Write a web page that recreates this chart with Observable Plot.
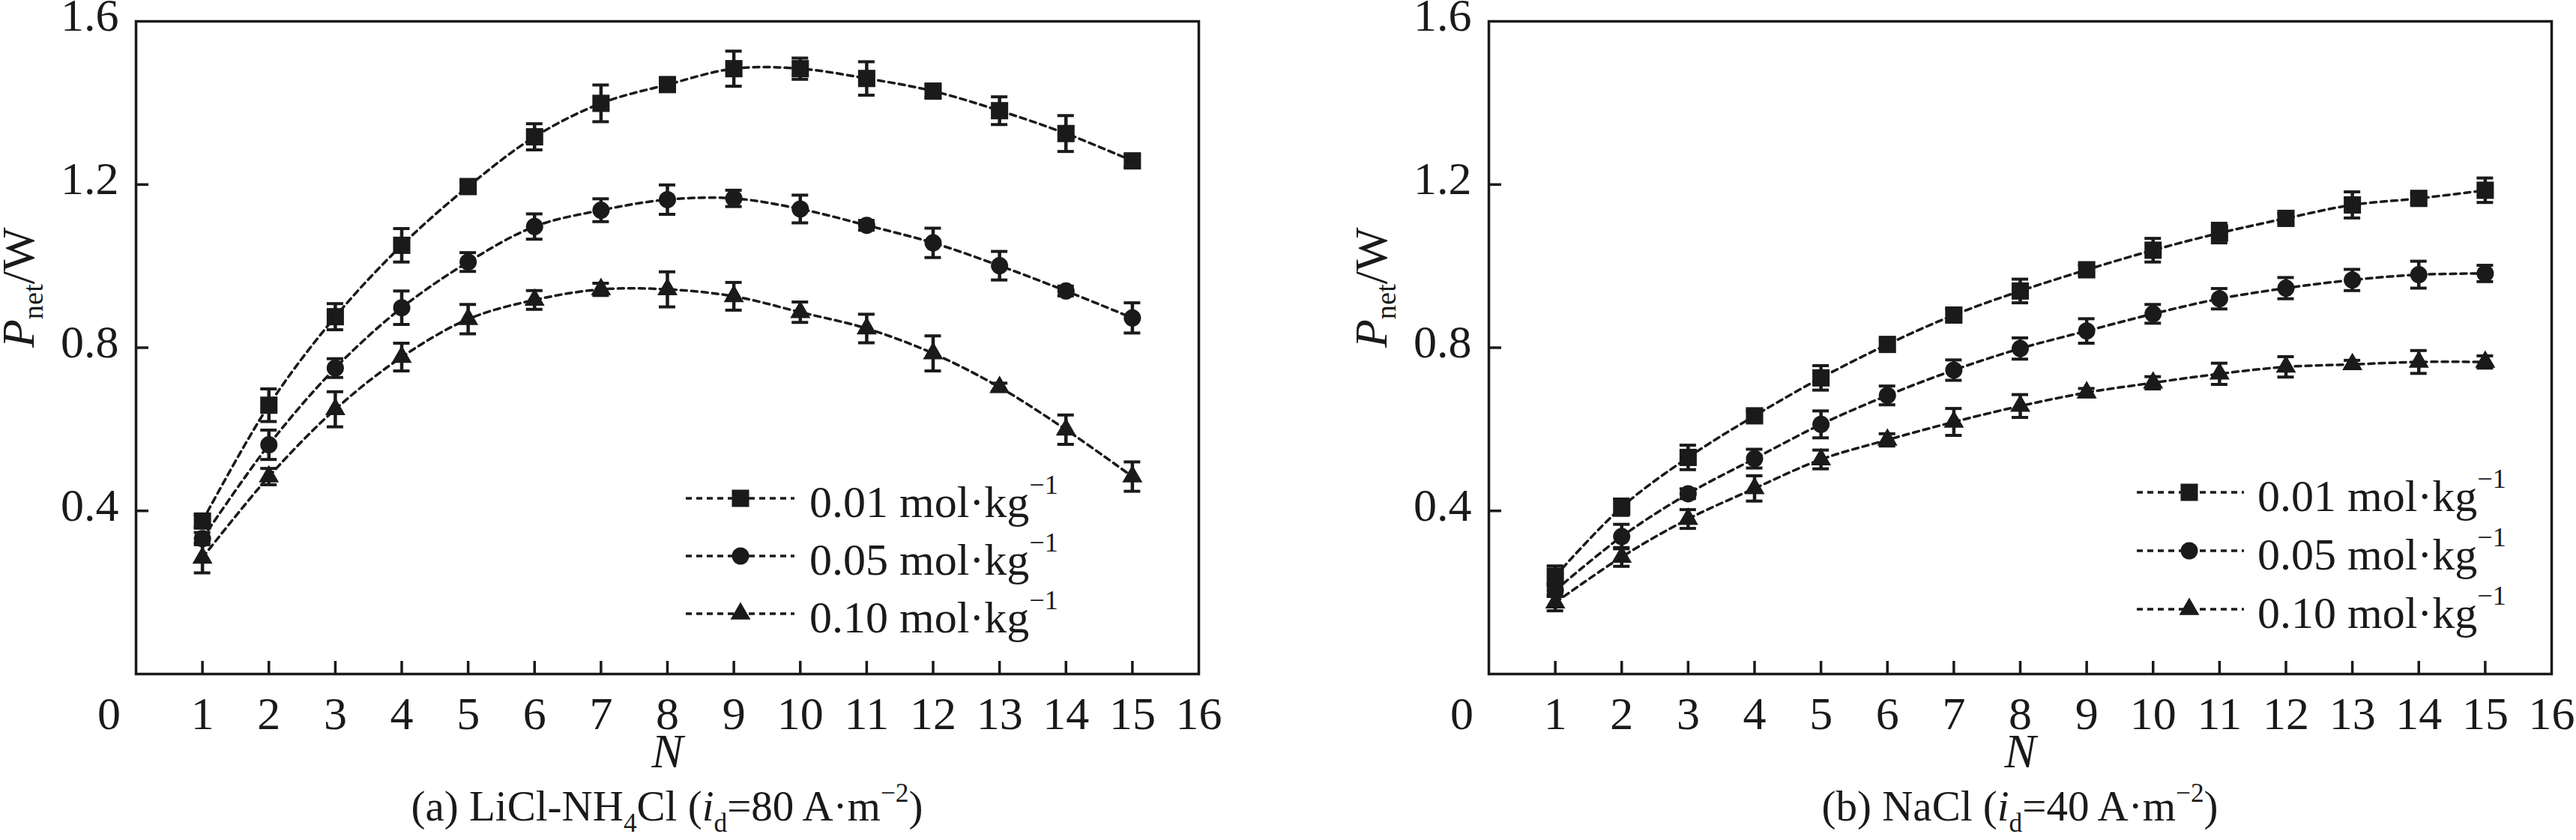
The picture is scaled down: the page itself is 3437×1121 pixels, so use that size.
<!DOCTYPE html>
<html>
<head>
<meta charset="utf-8">
<script src="https://cdn.jsdelivr.net/npm/d3@7"></script>
<script src="https://cdn.jsdelivr.net/npm/@observablehq/plot@0.6"></script>
<style>
  body { margin: 0; background: #fff; }
  #wrap { position: relative; width: 3437px; height: 1121px; overflow: hidden; background: #fff;
          font-family: "Liberation Serif", "Times New Roman", serif; color: #1a1a1a; }
  .panel { position: absolute; top: 0; }
  .cap { position: absolute; white-space: nowrap; font-size: 57px; line-height: 57px; transform: translateX(-50%); }
  .cap sub { font-size: 0.62em; line-height: 0; vertical-align: -0.42em; }
  .cap sup { font-size: 0.62em; line-height: 0; vertical-align: 0.72em; }
  #legend { position: absolute; left: 0; top: 0; pointer-events: none; }
</style>
</head>
<body>
<div id="wrap"></div>
<script>
// ---------- data ----------
const nValues = [1, 2, 3, 4, 5, 6, 7, 8, 9, 10, 11, 12, 13, 14, 15];
const xTickLabels = [1, 2, 3, 4, 5, 6, 7, 8, 9, 10, 11, 12, 13, 14, 15, 16];
const yTickLabels = [0.4, 0.8, 1.2, 1.6];
const seriesLabels = ["0.01 mol·kg^-1", "0.05 mol·kg^-1", "0.10 mol·kg^-1"];
const seriesSymbols = ["square", "circle", "triangle"];

// (a) LiCl-NH4Cl, id = 80 A·m-2
const a001 = [0.375, 0.659, 0.876, 1.051, 1.195, 1.317, 1.399, 1.445, 1.484, 1.484, 1.460, 1.429, 1.381, 1.325, 1.258];
const a001Err = [0.015, 0.040, 0.032, 0.041, 0.012, 0.032, 0.045, 0.015, 0.043, 0.026, 0.041, 0.015, 0.034, 0.044, 0.015];
const a005 = [0.332, 0.562, 0.750, 0.898, 1.010, 1.097, 1.137, 1.163, 1.166, 1.140, 1.100, 1.057, 1.001, 0.939, 0.873];
const a005Err = [0.015, 0.036, 0.023, 0.041, 0.023, 0.031, 0.028, 0.036, 0.020, 0.034, 0.012, 0.036, 0.035, 0.012, 0.037];
const a010 = [0.285, 0.484, 0.649, 0.777, 0.870, 0.917, 0.943, 0.943, 0.926, 0.887, 0.847, 0.786, 0.703, 0.599, 0.484];
const a010Err = [0.037, 0.020, 0.043, 0.034, 0.036, 0.023, 0.015, 0.043, 0.034, 0.025, 0.035, 0.043, 0.010, 0.036, 0.036];

// (b) NaCl, id = 40 A·m-2
const b001 = [0.240, 0.409, 0.531, 0.633, 0.726, 0.808, 0.880, 0.939, 0.991, 1.039, 1.081, 1.117, 1.150, 1.166, 1.186];
const b001Err = [0.025, 0.020, 0.030, 0.012, 0.030, 0.012, 0.015, 0.029, 0.012, 0.029, 0.024, 0.012, 0.032, 0.012, 0.030];
const b005 = [0.205, 0.337, 0.442, 0.528, 0.612, 0.683, 0.745, 0.798, 0.841, 0.883, 0.920, 0.946, 0.966, 0.979, 0.982];
const b005Err = [0.015, 0.030, 0.012, 0.023, 0.033, 0.023, 0.025, 0.026, 0.030, 0.023, 0.025, 0.026, 0.026, 0.033, 0.020];
const b010 = [0.175, 0.287, 0.380, 0.455, 0.526, 0.574, 0.618, 0.657, 0.690, 0.714, 0.736, 0.753, 0.759, 0.765, 0.765];
const b010Err = [0.020, 0.023, 0.023, 0.031, 0.023, 0.015, 0.033, 0.028, 0.010, 0.015, 0.026, 0.025, 0.010, 0.028, 0.015];

const captionA = '(a) LiCl-NH<sub>4</sub>Cl (<i>i</i><sub>d</sub>=80 A·m<sup>−2</sup>)';
const captionB = '(b) NaCl (<i>i</i><sub>d</sub>=40 A·m<sup>−2</sup>)';

// ---------- styling ----------
const ink = "#1a1a1a";
const H = 1050, M_TOP = 28, FRAME_BOTTOM = 899;
const symbolR = {square: 13, circle: 11.5, triangle: 10};

function rows(valuesList, errList) {
  return valuesList.flatMap((vals, s) => vals.map((v, i) => ({
    n: nValues[i], v, e: errList[s][i], key: seriesLabels[s], symbol: seriesSymbols[s]
  })));
}

function makePanel({data, width, marginLeft, marginRight}) {
  const marks = [
    Plot.frame({stroke: ink, strokeWidth: 3.5}),
    Plot.ruleX(xTickLabels.slice(0, -1), {x: d => d, y1: 0, y2: 0, insetBottom: 17, stroke: ink, strokeWidth: 3.5}),
    Plot.ruleY(yTickLabels.slice(0, -1), {y: d => d, x1: 0, x2: 0, insetRight: -17, stroke: ink, strokeWidth: 3.5}),
    Plot.axisX(xTickLabels, {tickSize: 0, tickPadding: 29, fontSize: 62, label: null}),
    Plot.axisY(yTickLabels, {tickSize: 0, tickPadding: 23, fontSize: 62, dy: -7, label: null, tickFormat: d => d.toFixed(1)}),
    Plot.text(["0"], {x: 0, y: 0, dx: -36, dy: 29, lineAnchor: "top", fontSize: 62, fill: ink}),
    Plot.text(["N"], {frameAnchor: "bottom", dy: 124, fontSize: 63, fontStyle: "italic", fill: ink}),
    Plot.text(["Pnet/W"], {frameAnchor: "left", dx: -156, rotate: -90, fontSize: 62, fill: ink}),
    Plot.line(data, {x: "n", y: "v", z: "key", curve: "catmull-rom", stroke: ink, strokeWidth: 3.5, strokeDasharray: "8,6"}),
    Plot.ruleX(data, {x: "n", y1: d => d.v - d.e, y2: d => d.v + d.e, stroke: ink, strokeWidth: 4.5}),
    Plot.ruleY(data, {x1: "n", x2: "n", y: d => d.v + d.e, insetLeft: -11, insetRight: -11, stroke: ink, strokeWidth: 4}),
    Plot.ruleY(data, {x1: "n", x2: "n", y: d => d.v - d.e, insetLeft: -11, insetRight: -11, stroke: ink, strokeWidth: 4})
  ];
  for (const sym of seriesSymbols) {
    marks.push(Plot.dot(data.filter(d => d.symbol === sym), {x: "n", y: "v", symbol: sym, r: symbolR[sym], fill: ink, stroke: "none"}));
  }
  const svg = Plot.plot({
    width, height: H,
    marginTop: M_TOP, marginBottom: H - FRAME_BOTTOM, marginLeft, marginRight,
    x: {domain: [0, 16], label: null, axis: null},
    y: {domain: [0, 1.6], label: null, axis: null},
    style: {fontFamily: '"Liberation Serif", "Times New Roman", serif', color: ink, background: "transparent", overflow: "visible"},
    marks
  });
  // rich text for the y title
  svg.querySelectorAll("text").forEach(t => {
    if (t.textContent === "Pnet/W") {
      const sel = d3.select(t);
      sel.text(null);
      sel.append("tspan").attr("font-style", "italic").text("P");
      sel.append("tspan").attr("font-size", "0.62em").attr("dy", "0.3em").text("net");
      sel.append("tspan").attr("dy", "-0.19em").text("/W");
    }
  });
  return svg;
}

const wrap = document.getElementById("wrap");

const panelA = makePanel({data: rows([a001, a005, a010], [a001Err, a005Err, a010Err]), width: 1718, marginLeft: 181, marginRight: 119});
panelA.classList.add("panel"); panelA.style.left = "0px";
wrap.appendChild(panelA);

const panelB = makePanel({data: rows([b001, b005, b010], [b001Err, b005Err, b010Err]), width: 1719, marginLeft: 268, marginRight: 33});
panelB.classList.add("panel"); panelB.style.left = "1718px";
wrap.appendChild(panelB);

// captions
function addCaption(html, cx) {
  const d = document.createElement("div");
  d.className = "cap";
  d.innerHTML = html;
  d.style.left = cx + "px";
  d.style.top = "1047px";
  wrap.appendChild(d);
}
addCaption(captionA, 890);
addCaption(captionB, 2695);

// legends
const lg = d3.select(wrap).append("svg").attr("id", "legend").attr("width", 3437).attr("height", 1121);
const legendSpecs = [
  {x0: 915, x1: 1060, mx: 988, tx: 1080, rowsY: [665, 742, 819]},
  {x0: 2851, x1: 2994, mx: 2921, tx: 3012, rowsY: [657, 735, 813]}
];
for (const spec of legendSpecs) {
  seriesLabels.forEach((label, i) => {
    const y = spec.rowsY[i];
    const sym = seriesSymbols[i];
    lg.append("line").attr("x1", spec.x0).attr("x2", spec.x1).attr("y1", y).attr("y2", y)
      .attr("stroke", ink).attr("stroke-width", 3.5).attr("stroke-dasharray", "8,6");
    const r = symbolR[sym];
    const symType = sym === "square" ? d3.symbolSquare : sym === "circle" ? d3.symbolCircle : d3.symbolTriangle;
    lg.append("path").attr("transform", `translate(${spec.mx},${y})`)
      .attr("d", d3.symbol(symType, r * r * Math.PI)()).attr("fill", ink);
    const [base, sup] = label.split("^");
    const t = lg.append("text").attr("x", spec.tx).attr("y", y + 25)
      .attr("font-family", '"Liberation Serif", "Times New Roman", serif').attr("font-size", 60).attr("fill", ink);
    t.append("tspan").text(base);
    t.append("tspan").attr("font-size", "0.6em").attr("dy", "-0.85em").text(sup.replace("-", "−"));
  });
}
</script>
</body>
</html>
